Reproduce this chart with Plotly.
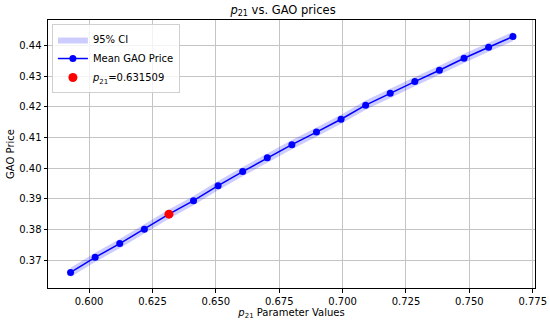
import plotly.graph_objects as go

# Data
p21_values = [0.5927, 0.6024, 0.6121, 0.6218, 0.631509, 0.6412, 0.6509, 0.6606,
              0.6703, 0.6800, 0.6897, 0.6994, 0.7091, 0.7188, 0.7285, 0.7382,
              0.7479, 0.7576, 0.7672]
mean_price = [0.3660, 0.3709, 0.3754, 0.3801, 0.3850, 0.3894, 0.3943, 0.3989,
              0.4034, 0.4077, 0.4118, 0.4160, 0.4206, 0.4245, 0.4283, 0.4320,
              0.4359, 0.4395, 0.4430]
ci_lower = [0.3645, 0.3694, 0.3739, 0.3786, 0.3835, 0.3879, 0.3928, 0.3974,
            0.4019, 0.4062, 0.4103, 0.4145, 0.4191, 0.4230, 0.4268, 0.4305,
            0.4344, 0.4380, 0.4415]
ci_upper = [0.3675, 0.3724, 0.3769, 0.3816, 0.3865, 0.3909, 0.3958, 0.4004,
            0.4049, 0.4092, 0.4133, 0.4175, 0.4221, 0.4260, 0.4298, 0.4335,
            0.4374, 0.4410, 0.4445]
current_p21 = [0.631509]
current_price = [0.3850]
x_ticks = [0.600, 0.625, 0.650, 0.675, 0.700, 0.725, 0.750, 0.775]
y_ticks = [0.37, 0.38, 0.39, 0.40, 0.41, 0.42, 0.43, 0.44]

FONT = "DejaVu Sans"

fig = go.Figure()
fig.add_trace(go.Scatter(x=p21_values, y=ci_upper, mode="lines",
                         line=dict(width=0, color="rgba(0,0,255,0)"),
                         showlegend=False, hoverinfo="skip"))
fig.add_trace(go.Scatter(x=p21_values, y=ci_lower, mode="lines",
                         line=dict(width=0, color="rgba(0,0,255,0)"),
                         fill="tonexty", fillcolor="rgba(0,0,255,0.2)",
                         name="95% CI"))
fig.add_trace(go.Scatter(x=p21_values, y=mean_price, mode="lines+markers",
                         line=dict(color="#0000ff", width=1.5),
                         marker=dict(color="#0000ff", size=7),
                         name="Mean GAO Price"))
fig.add_trace(go.Scatter(x=current_p21, y=current_price, mode="markers",
                         marker=dict(color="#ff0000", size=9),
                         name="<i>p</i><sub>21</sub>=0.631509"))

axis_common = dict(showline=True, linecolor="black", linewidth=1, mirror=True,
                   ticks="outside", ticklen=3.5, tickcolor="black", tickwidth=1,
                   showgrid=True, gridcolor="#c4c4c4", gridwidth=1,
                   zeroline=False, automargin=False,
                   tickfont=dict(family=FONT, size=10, color="black"))

fig.update_xaxes(range=[0.5838, 0.7759], tickvals=x_ticks, tickformat=".3f",
                 title=dict(text="<i>p</i><sub>21</sub> Parameter Values",
                            font=dict(family=FONT, size=10, color="black"),
                            standoff=1),
                 **axis_common)
fig.update_yaxes(range=[0.3609, 0.4484], tickvals=y_ticks, tickformat=".2f",
                 title=dict(text="GAO Price",
                            font=dict(family=FONT, size=10, color="black"),
                            standoff=2),
                 **axis_common)

fig.update_layout(
    width=550, height=324,
    margin=dict(l=48, r=15, t=20, b=36),
    paper_bgcolor="white", plot_bgcolor="white",
    title=dict(text="<i>p</i><sub>21</sub> vs. GAO prices",
               font=dict(family=FONT, size=11.5, color="black"),
               x=0.5146, xref="container", xanchor="center",
               y=1 - 10 / 324, yref="container", yanchor="middle"),
    legend=dict(x=0.008, y=0.985, xanchor="left", yanchor="top",
                traceorder="normal",
                bgcolor="rgba(255,255,255,0.8)", bordercolor="#d0d0d0",
                borderwidth=1, font=dict(family=FONT, size=10, color="black"),
                tracegroupgap=0, itemwidth=30),
    font=dict(family=FONT),
    showlegend=True,
)

fig.write_html("out.html", config={"displayModeBar": False},
               post_script="document.body.style.margin='0';document.body.style.overflow='hidden';")
